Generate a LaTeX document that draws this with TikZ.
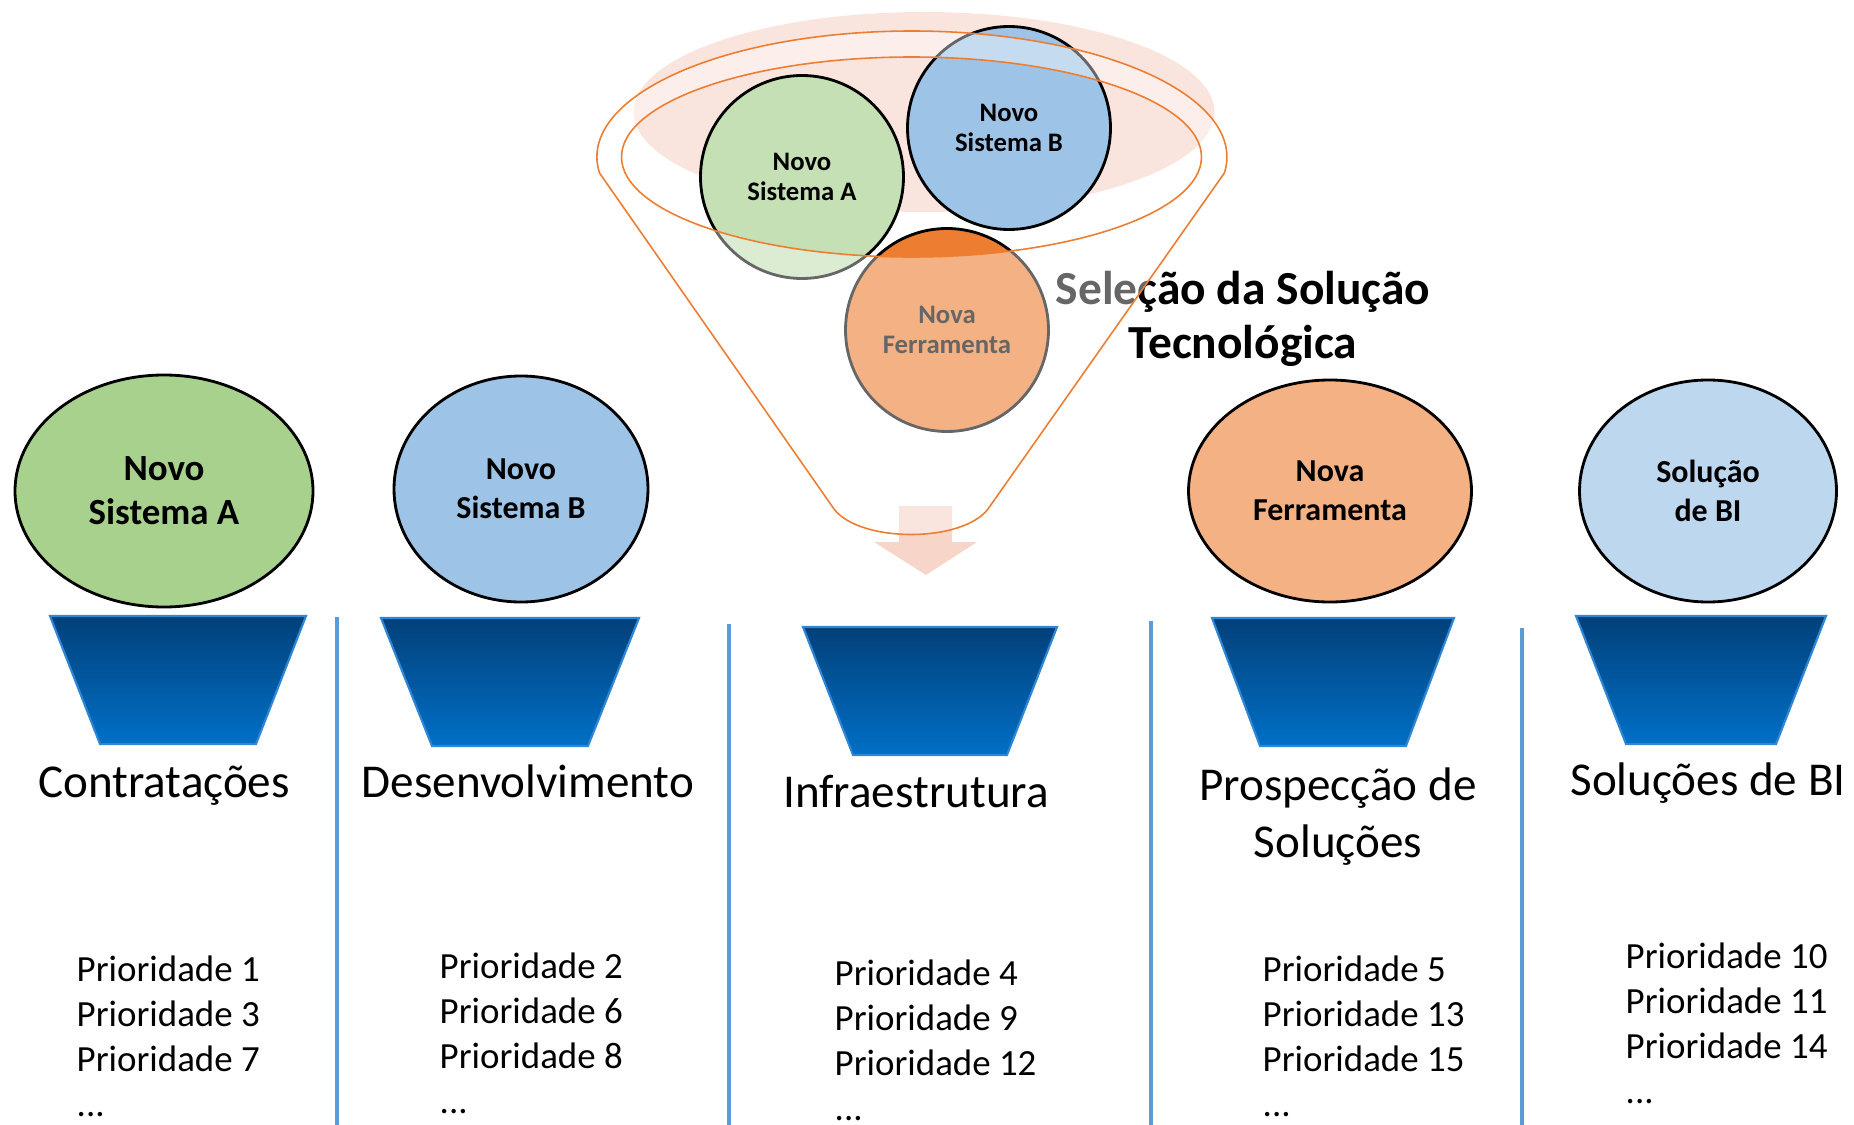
\documentclass[tikz,border=0pt]{standalone}
\usepackage{fontspec}
\setmainfont{Carlito}
\usetikzlibrary{shapes.geometric}
\definecolor{verde}{HTML}{A9D18E}
\definecolor{verdeclaro}{HTML}{C5E0B4}
\definecolor{azul}{HTML}{9DC3E6}
\definecolor{azulclaro}{HTML}{BDD7EE}
\definecolor{laranja}{HTML}{F4B183}
\definecolor{laranjaforte}{HTML}{ED7D31}
\definecolor{rosa}{HTML}{FAE4DE}
\definecolor{seta}{HTML}{F8D5C9}
\definecolor{linha}{HTML}{5B9BD5}
\definecolor{funiltopo}{HTML}{02407A}
\definecolor{funilbase}{HTML}{0070C6}
\definecolor{funilborda}{HTML}{2E86D4}
\begin{document}
\begin{tikzpicture}[x=0.1mm,y=-0.1mm,
    oval/.style={ellipse,draw=black,line width=0.8pt,align=center,font=\bfseries\fontsize{9.1}{11.1}\selectfont},
    bola/.style={circle,draw=black,line width=0.8pt,minimum size=20.3mm,inner sep=0pt,align=center,font=\bfseries\fontsize{7.6}{8.5}\selectfont},
    titulo/.style={align=center,anchor=base,font=\fontsize{13.4}{16.2}\selectfont},
    lista/.style={align=left,anchor=base west,inner sep=0pt,font=\fontsize{10.5}{12.8}\selectfont}]
    \useasboundingbox (0,0) rectangle (1854,1125);
    % funil de selecao
    \fill[rosa] (924,112) ellipse [x radius=29.05mm, y radius=10mm];
    \node[bola,fill=verdeclaro] (novoA) at (802,177) {Novo\\Sistema A};
    \node[bola,fill=azul] (novoB) at (1009,128) {Novo\\Sistema B};
    \node[bola,fill=laranjaforte] (novaF) at (947,330) {Nova\\Ferramenta};
    \node[align=center,anchor=base,font=\bfseries\fontsize{13.5}{15.1}\selectfont] (selecao) at (1243,358) {Seleção da Solução\\Tecnológica};
    \fill[seta] (899,506) -- (952,506) -- (952,542) -- (977,542) -- (926,575) -- (874,542) -- (899,542) -- cycle;
    \fill[white,fill opacity=0.4,even odd rule] (599.5,173) arc [start angle=187.3, end angle=-7.3, x radius=31.5mm, y radius=12.6mm]
        -- (988,509) .. controls (962,543) and (860,543) .. (834,509) -- cycle
        (911.5,157) ellipse [x radius=29mm, y radius=10mm];
    \draw[laranjaforte,line width=0.45pt] (599.5,173) arc [start angle=187.3, end angle=-7.3, x radius=31.5mm, y radius=12.6mm]
        -- (988,509) .. controls (962,543) and (860,543) .. (834,509) -- cycle;
    \draw[laranjaforte,line width=0.45pt] (911.5,157) ellipse [x radius=29mm, y radius=10mm];
    % areas
    \node[oval,fill=verde,minimum width=29.8mm,minimum height=23.2mm,font=\bfseries\fontsize{10.5}{12.5}\selectfont] (sisA) at (164,491) {Novo\\Sistema A};
    \node[oval,fill=azul,minimum width=25.4mm,minimum height=22.6mm] (sisB) at (521,489) {Novo\\Sistema B};
    \node[oval,fill=laranja,minimum width=28.3mm,minimum height=22.2mm] (ferr) at (1330,491) {Nova\\Ferramenta};
    \node[oval,fill=azulclaro,minimum width=25.7mm,minimum height=22.2mm] (bi) at (1708,491) {Solução\\de BI};
    \foreach \cx/\ty/\tw/\bw in {178/616/128/78, 510/618/129/78, 930/627/127/77, 1333/618/121/73, 1701/616/125/75}
        \shade[top color=funiltopo,bottom color=funilbase,draw=funilborda,line width=0.6pt]
            (\cx-\tw,\ty) -- (\cx+\tw,\ty) -- (\cx+\bw,\ty+128) -- (\cx-\bw,\ty+128) -- cycle;
    \foreach \x/\y in {337/617, 729/624, 1151/621, 1522/628}
        \draw[linha,line width=1.4pt] (\x,\y) -- (\x,1125);
    \node[titulo] (contr) at (164,797) {Contratações};
    \node[titulo] (desenv) at (528,797) {Desenvolvimento};
    \node[titulo] (infra) at (916,807) {Infraestrutura};
    \node[titulo] (prosp) at (1338,857) {Prospecção de\\Soluções};
    \node[titulo] (solbi) at (1708,795) {Soluções de BI};
    \node[lista] (prio1) at (76,1116) {Prioridade 1\\Prioridade 3\\Prioridade 7\\...};
    \node[lista] (prio2) at (439,1113) {Prioridade 2\\Prioridade 6\\Prioridade 8\\...};
    \node[lista] (prio3) at (834,1120) {Prioridade 4\\Prioridade 9\\Prioridade 12\\...};
    \node[lista] (prio4) at (1262,1116) {Prioridade 5\\Prioridade 13\\Prioridade 15\\...};
    \node[lista] (prio5) at (1625,1103) {Prioridade 10\\Prioridade 11\\Prioridade 14\\...};
\end{tikzpicture}
\end{document}
